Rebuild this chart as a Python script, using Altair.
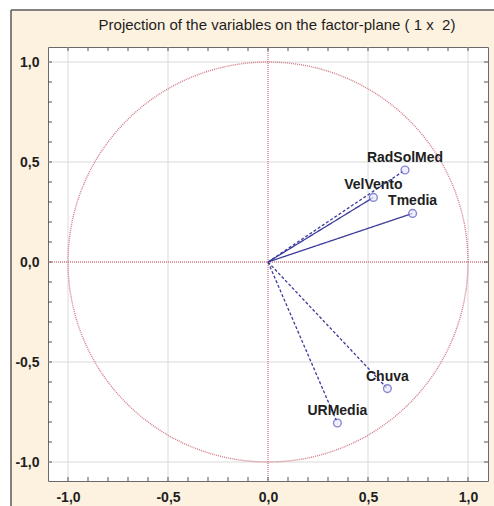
import altair as alt
import numpy as np
import pandas as pd

# Loadings of each variable on factors 1 and 2
names = ["RadSolMed", "VelVento", "Tmedia", "Chuva", "URMedia"]
fac1 = [0.685, 0.527, 0.723, 0.597, 0.347]
fac2 = [0.460, 0.323, 0.243, -0.633, -0.805]
styles = ["dash", "solid", "solid", "dash", "dash"]

major_ticks = [-1.0, -0.5, 0.0, 0.5, 1.0]
grid_lines = [-1.0, -0.5, 0.5, 1.0]
minor_ticks = [round(i / 10, 1) for i in range(-10, 11)]

TITLE = "Projection of the variables on the factor-plane ( 1 x \u00a02)"

W, H = 440, 434
XDOM = [-1.1, 1.1]
YDOM = [-1.095, 1.075]

FONT = "Liberation Sans"
RED = "#d27a86"
BLUE = "#3b3b9c"
PEACH = "#fdf1df"
EDGE = "#5a5a5a"

vec = pd.DataFrame({"name": names, "x": fac1, "y": fac2, "style": styles})
vec["x0"] = 0.0
vec["y0"] = 0.0

ang = np.linspace(0, 2 * np.pi, 361)
circle = pd.DataFrame({"cx": np.cos(ang), "cy": np.sin(ang), "k": np.arange(361)})

ticks = pd.DataFrame({"t": minor_ticks})
gridv = pd.DataFrame({"g": grid_lines})
zero = pd.DataFrame({"z": [0.0]})

label_expr = ("(datum.value < 0 ? '-' : '') + "
              "replace(format(abs(datum.value), '.1f'), '.', ',')")

xs = alt.Scale(domain=XDOM, nice=False, zero=False)
ys = alt.Scale(domain=YDOM, nice=False, zero=False)
xax = alt.Axis(values=major_ticks, labelExpr=label_expr, title=None)
yax = alt.Axis(values=major_ticks, labelExpr=label_expr, title=None)

# White margin outside the peach panel, and the panel's dark edge
margin_left = alt.Chart(zero).mark_rect(fill="white").encode(
    x=alt.value(-48), x2=alt.value(-37), y=alt.value(-47), y2=alt.value(H + 25))
margin_top = alt.Chart(zero).mark_rect(fill="white").encode(
    x=alt.value(-48), x2=alt.value(W + 6), y=alt.value(-47), y2=alt.value(-37))
edge_left = alt.Chart(zero).mark_rule(color=EDGE, strokeWidth=1.5).encode(
    x=alt.value(-37), y=alt.value(-37), y2=alt.value(H + 25))
edge_top = alt.Chart(zero).mark_rule(color=EDGE, strokeWidth=1.5).encode(
    y=alt.value(-37), x=alt.value(-37), x2=alt.value(W + 6))

title = alt.Chart(zero).mark_text(
    text=TITLE, font=FONT, fontSize=15, color="#1e1e1e",
    align="center", baseline="middle"
).encode(x=alt.value(W / 2 + 9), y=alt.value(-22))

# Light gridlines at the labelled positions
grid_style = dict(color="#dadada", strokeWidth=1)
gx = alt.Chart(gridv).mark_rule(**grid_style).encode(
    x=alt.X("g:Q", scale=xs), y=alt.value(0), y2=alt.value(H))
gy = alt.Chart(gridv).mark_rule(**grid_style).encode(
    y=alt.Y("g:Q", scale=ys), x=alt.value(0), x2=alt.value(W))

# Invisible layer carrying the labelled axes
axes = alt.Chart(vec).mark_point(opacity=0).encode(
    x=alt.X("x:Q", scale=xs, axis=xax),
    y=alt.Y("y:Q", scale=ys, axis=yax),
)

# Red dotted lines through the origin
vline = alt.Chart(zero).mark_rule(color=RED, strokeDash=[1, 1], strokeWidth=1.3).encode(
    x=alt.X("z:Q", scale=xs), y=alt.value(0), y2=alt.value(H)
)
hline = alt.Chart(zero).mark_rule(color=RED, strokeDash=[1, 1], strokeWidth=1.3).encode(
    y=alt.Y("z:Q", scale=ys), x=alt.value(0), x2=alt.value(W)
)

# Unit correlation circle
circ = alt.Chart(circle).mark_line(
    color=RED, strokeDash=[1, 1], strokeWidth=1.4
).encode(
    x=alt.X("cx:Q", scale=xs), y=alt.Y("cy:Q", scale=ys), order="k:Q"
)

# Inward minor ticks on all four sides
tick_style = dict(color="#555555", strokeWidth=1)
t_bottom = alt.Chart(ticks).mark_rule(**tick_style).encode(
    x=alt.X("t:Q", scale=xs), y=alt.value(H), y2=alt.value(H - 4))
t_top = alt.Chart(ticks).mark_rule(**tick_style).encode(
    x=alt.X("t:Q", scale=xs), y=alt.value(0), y2=alt.value(4))
t_left = alt.Chart(ticks).mark_rule(**tick_style).encode(
    y=alt.Y("t:Q", scale=ys), x=alt.value(0), x2=alt.value(4))
t_right = alt.Chart(ticks).mark_rule(**tick_style).encode(
    y=alt.Y("t:Q", scale=ys), x=alt.value(W), x2=alt.value(W - 4))

# Variable vectors from the origin
vectors = alt.Chart(vec).mark_rule(color=BLUE, strokeWidth=1.3).encode(
    x=alt.X("x0:Q", scale=xs), x2="x:Q",
    y=alt.Y("y0:Q", scale=ys), y2="y:Q",
    strokeDash=alt.StrokeDash(
        "style:N",
        scale=alt.Scale(domain=["solid", "dash"], range=[[1, 0], [3, 2]]),
        legend=None,
    ),
)

points = alt.Chart(vec).mark_point(
    shape="circle", size=60, filled=True, fill="#ececff",
    stroke="#5454c4", strokeWidth=1.4
).encode(x=alt.X("x:Q", scale=xs), y=alt.Y("y:Q", scale=ys))

labels = alt.Chart(vec).mark_text(
    font=FONT, fontSize=14, fontWeight="bold", color="#1e1e1e",
    align="center", baseline="middle", dy=-12
).encode(x=alt.X("x:Q", scale=xs), y=alt.Y("y:Q", scale=ys), text="name:N")

chart = alt.layer(
    margin_left, margin_top, edge_left, edge_top, title,
    gx, gy, axes, vline, hline, circ,
    t_bottom, t_top, t_left, t_right, vectors, points, labels
).properties(
    width=W, height=H,
    padding={"left": 48, "top": 47, "right": 6, "bottom": 25},
    autosize=alt.AutoSizeParams(type="none"),
    background=PEACH,
).configure_view(
    fill="white", stroke="#6a6a6a", strokeWidth=1
).configure_axis(
    grid=False, ticks=False, domain=False,
    labelFont=FONT, labelFontSize=14, labelFontWeight="bold",
    labelColor="#1e1e1e", labelPadding=9,
)

chart.save("out.html", embed_options={"renderer": "svg", "actions": False})
